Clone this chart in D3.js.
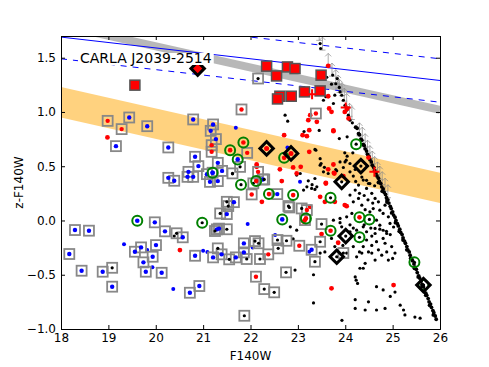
<!DOCTYPE html>
<html>
<head>
<meta charset="utf-8">
<script src="https://cdn.jsdelivr.net/npm/d3@7"></script>
<style>
  body { margin: 0; background: #fff; }
  svg { font-family: "DejaVu Sans", sans-serif; }
</style>
</head>
<body>
<div id="chart"></div>
<script>
// ---- data (F140W magnitude, z-F140W colour) ----
var xTicks = [18, 19, 20, 21, 22, 23, 24, 25, 26];
var yTicks = [-1.0, -0.5, 0.0, 0.5, 1.0, 1.5];
var fieldName = 'CARLA J2039-2514';

// model lines: [mag, colour] end points
var bandCentre = [[18, 1.09], [26, 0.30]];
var bandHalf = 0.14;
var greyTrack = [[18, 1.80], [26, 1.02]];
var blueSolid = [[18, 1.69], [26, 1.29]];
var blueDashHi = [[18, 1.89], [26, 1.49]];
var blueDashLo = [[18, 1.49], [26, 1.09]];

var blackDots = [
  [23.43,1.71],[23.47,1.63],[23.48,1.585],[23.61,1.32],[23.735,1.34],[23.83,1.308],[23.71,1.256],
  [23.80,1.26],[23.875,1.226],[23.89,1.185],[23.925,1.154],[23.96,1.108],[23.78,1.155],[23.54,1.108],
  [23.59,1.14],[23.75,1.078],[23.995,1.062],[24.03,1.016],[24.065,0.97],[24.10,0.924],[24.15,0.90],
  [22.73,0.97],[22.785,0.915],[23.45,0.83],[23.875,0.755],[24.04,0.771],[23.36,0.655],[23.99,0.623],
  [24.04,0.593],[24.02,0.556],[23.13,0.82],[23.38,0.648],[23.47,0.57],[23.49,0.525],[23.54,0.448],
  [23.64,0.433],[23.82,0.458],[23.96,0.488],[23.995,0.54],[24.16,0.623],[24.10,0.525],[24.21,0.47],
  [23.89,0.54],[23.36,0.387],[23.29,0.295],[23.36,0.286],[23.19,0.31],[24.10,0.234],[24.21,0.28],
  [24.28,0.326],[24.38,0.372],[24.45,0.295],[24.49,0.341],[24.56,0.25],[24.63,0.203],[24.70,0.172],
  [24.84,0.141],[24.875,0.188],[24.28,0.203],[24.17,0.172],[24.35,0.141],[24.42,0.10],[24.52,0.08],
  [24.59,0.11],[24.73,0.095],[24.80,0.065],[24.91,0.034],[24.66,0.003],[24.73,-0.043],
  [24.80,-0.09],[24.875,-0.12],[24.945,-0.027],[24.14,0.065],[24.03,0.034],[23.89,0.019],[23.75,0.003],
  [23.925,-0.058],[24.10,-0.104],[24.24,-0.089],[24.38,-0.058],[24.45,-0.104],[24.56,-0.144],[24.63,-0.073],
  [23.47,0.51],[23.56,0.49],[23.80,0.47],[24.10,0.448],[24.17,0.409],[24.35,0.40],[24.45,0.37],
  [24.52,0.34],[24.62,0.32],[24.22,0.36],[24.30,0.25],[24.40,0.23],[24.48,0.19],[24.58,0.16],
  [22.975,0.418],[23.30,0.33],[23.40,0.31],[23.05,0.433],[23.12,0.28],[23.22,0.365],
  [23.89,-0.02],[24.10,-0.04],[24.17,-0.07],[24.40,-0.04],[24.54,-0.07],[24.63,-0.12],[24.73,-0.08],
  [24.87,-0.10],[24.95,-0.13],[25.02,-0.06],[24.80,-0.165],[24.84,-0.21],[24.66,-0.195],[24.56,-0.23],
  [24.45,-0.18],[24.38,-0.24],[24.30,-0.29],[24.24,-0.335],[24.35,-0.30],[24.49,-0.29],[24.56,-0.30],
  [24.70,-0.27],[24.77,-0.32],[24.875,-0.29],[24.98,-0.24],[25.05,-0.30],[25.00,-0.35],[24.91,-0.365],
  [24.63,-0.365],[24.42,-0.395],[24.38,-0.44],[24.21,-0.52],[24.23,-0.55],[24.26,-0.58],[24.31,-0.44],
  [24.03,-0.30],[24.17,-0.24],[23.95,-0.23],[23.78,-0.24],[23.71,-0.165],[23.57,-0.29],[23.47,-0.30],
  [23.33,-0.50],[23.33,-0.76],[24.66,-0.61],[24.80,-0.64],[24.95,-0.70],[25.05,-0.66],[24.84,-0.81],
  [25.16,-0.78],[25.23,-0.825],[25.26,-0.87],[25.47,-0.89],[25.58,-0.90],[24.21,-0.73],[24.21,-0.81],
  [23.93,-0.92],[24.49,-0.75],[24.66,-0.825],[24.42,-0.825],
  [22.84,-0.058],[22.975,-0.089],[22.94,-0.457],[22.90,-0.17],[20.39,-0.144],[21.62,0.43]
];

// dense locus along the z detection limit
var limitDots = [
  [24.22,0.86],[24.25,0.85],[24.28,0.80],[24.30,0.79],[24.33,0.75],[24.35,0.74],[24.38,0.70],
  [24.40,0.69],[24.42,0.66],[24.45,0.64],[24.47,0.61],[24.50,0.59],[24.52,0.56],[24.55,0.54],
  [24.57,0.51],[24.60,0.49],[24.62,0.46],[24.65,0.44],[24.67,0.41],[24.70,0.39],[24.72,0.36],
  [24.75,0.34],[24.77,0.31],[24.80,0.29],[24.82,0.26],[24.85,0.24],[24.87,0.21],[24.90,0.19],
  [24.92,0.16],[24.95,0.13],[24.97,0.11],[25.00,0.08],[25.02,0.05],[25.05,0.03],[25.07,0.00],
  [25.10,-0.03],[25.12,-0.05],[25.15,-0.08],[25.17,-0.11],[25.20,-0.13],[25.22,-0.16],[25.25,-0.19],
  [25.27,-0.21],[25.30,-0.24],[25.32,-0.27],[25.35,-0.29],[25.37,-0.32],[25.40,-0.35],[25.42,-0.37],
  [25.45,-0.40],[25.47,-0.43],[25.50,-0.45],[25.52,-0.48],[25.55,-0.51],[25.57,-0.53],[25.60,-0.56],
  [25.62,-0.59],[25.65,-0.61],[25.67,-0.64],[25.70,-0.67],[25.72,-0.69],[25.75,-0.72],[25.77,-0.75],
  [25.80,-0.77],[25.82,-0.80],[25.85,-0.83],[25.87,-0.85],[25.90,-0.88],[25.92,-0.91],
  [24.70,0.35],[24.78,0.27],[24.88,0.17],[24.98,0.07],[25.06,-0.02],[25.14,-0.10],[25.22,-0.18],
  [25.30,-0.27],[25.38,-0.35],[25.46,-0.44],[25.54,-0.52],[25.62,-0.61],[25.70,-0.69],[25.78,-0.78],
  [25.86,-0.87]
];

var upperLimits = [
  [23.45,1.66],[23.52,1.57],[23.64,1.42],[23.72,1.33],[23.80,1.27],[23.85,1.22],[23.88,1.18],
  [23.93,1.15],[23.98,1.10],[24.03,1.05],[24.09,0.96],[24.14,0.93],[24.30,0.78],[24.36,0.74],
  [24.42,0.68],[24.47,0.62],[24.52,0.57],[24.57,0.52],[24.62,0.47],[24.68,0.42],[24.73,0.38],
  [24.78,0.33],[24.84,0.27],[24.90,0.21]
];

var redDots = [
  [23.64,1.425],[23.64,1.145],[23.66,1.032],[23.71,1.001],[23.99,1.00],[24.04,1.03],[24.07,0.94],
  [23.26,0.97],[23.22,0.924],[23.40,0.909],[23.24,0.832],[23.75,0.823],[23.10,0.786],[23.19,0.777],
  [22.71,0.786],[18.98,0.765],[23.24,0.633],[22.90,0.489],[23.06,0.494],[22.62,0.471],[22.13,0.494],
  [23.64,0.471],[23.76,0.439],[23.96,0.409],[23.59,0.347],[22.24,0.172],[23.99,0.142],[23.75,0.516],
  [23.77,0.433],[23.59,0.341],[23.26,0.126],[23.47,0.218],[23.57,0.172],[23.78,0.172],[24.03,0.132],
  [24.49,0.58],[23.75,0.83],[22.975,0.434],[22.66,0.363],[22.13,0.517],[20.51,-0.273],[23.12,-0.01],
  [23.50,-0.125],[23.85,-0.205],[23.71,-0.625],[25.02,-0.595]
];

var blueDots = [
  [21.69,0.854],[22.78,0.673],[23.045,0.356],[19.33,-0.22],[19.82,-0.273],[19.93,-0.432],[20.37,-0.632],
  [21.94,-0.033],[22.52,-0.134],[23.24,-0.288],[21.00,-0.279],[21.09,-0.29],[22.045,-0.248]
];

// boxed objects: [mag, colour, class of the inner point]
var boxed = [
  [22.16,1.308,'k'],[21.81,1.023,'r'],[23.38,0.986,'r'],[18.985,0.918,'r'],[19.44,0.949,'b'],
  [19.28,0.842,'r'],[19.82,0.869,'b'],[19.16,0.685,'b'],[20.79,0.931,'b'],[21.21,0.885,'b'],
  [21.16,0.826,'b'],[21.27,0.75,'b'],[21.18,0.694,'r'],[21.18,0.633,'r'],[20.265,0.673,'b'],
  [20.83,0.587,'b'],[20.90,0.501,'b'],[21.31,0.531,'b'],[21.93,0.623,'r'],[20.265,0.393,'b'],
  [20.39,0.366,'b'],[20.69,0.448,'b'],[20.67,0.402,'b'],[20.79,0.402,'b'],[21.08,0.427,'b'],
  [21.20,0.44,'b'],[21.40,0.457,'b'],[21.145,0.356,'b'],[21.31,0.363,'b'],[21.62,0.434,'k'],
  [21.78,0.494,'k'],[22.26,0.378,'b'],[22.06,0.342,'k'],[22.025,0.24,'r'],[22.565,0.243,'b'],
  [21.53,0.133,'k'],[21.65,0.169,'b'],[22.80,0.133,'k'],[22.16,0.448,'r'],[22.29,0.378,'k'],
  [22.82,0.12,'k'],[23.08,0.111,'k'],[23.19,0.096,'r'],[23.15,0.004,'r'],[21.50,0.172,'k'],
  [21.50,0.059,'b'],[21.36,0.065,'k'],[21.29,-0.082,'b'],[21.25,-0.097,'k'],[21.335,-0.075,'b'],
  [21.50,-0.081,'k'],[22.57,-0.18,'k'],[22.76,-0.187,'k'],[23.03,-0.233,'r'],[20.83,-0.325,'b'],
  [21.21,-0.34,'b'],[21.31,-0.257,'k'],[21.39,-0.312,'b'],[21.55,-0.358,'k'],[21.69,-0.34,'b'],
  [21.86,-0.294,'b'],[21.86,-0.211,'b'],[21.92,-0.355,'k'],[22.095,-0.19,'k'],[22.17,-0.21,'k'],
  [22.20,-0.355,'k'],[22.375,-0.312,'r'],[22.585,-0.257,'k'],[22.75,-0.478,'k'],[22.115,-0.518,'r'],
  [22.29,-0.632,'k'],[22.50,-0.662,'k'],[20.72,-0.666,'b'],[20.92,-0.604,'b'],[21.87,-0.878,'k'],
  [19.98,-0.017,'b'],[18.295,-0.088,'b'],[18.59,-0.094,'b'],[20.195,-0.10,'b'],[20.44,-0.118,'k'],
  [20.57,-0.155,'b'],[18.175,-0.309,'b'],[19.69,-0.248,'b'],[19.56,-0.288,'b'],[20.005,-0.227,'b'],
  [19.935,-0.334,'b'],[19.74,-0.386,'b'],[19.79,-0.472,'b'],[20.125,-0.482,'b'],[18.435,-0.463,'b'],
  [18.88,-0.472,'b'],[19.08,-0.436,'k'],[19.08,-0.61,'b'],[23.50,-0.033,'k'],[23.47,-0.196,'k'],
  [23.29,-0.27,'b'],[23.36,-0.38,'k'],[23.96,-0.30,'k']
];

var redSquares = [
  [19.56,1.247],[22.34,1.422],[22.78,1.415],[22.94,1.40],[22.55,1.332],[23.49,1.339],
  [22.62,1.145],[22.57,1.12],[22.86,1.145],[23.14,1.185],[23.47,1.194]
];

var greenRings = [
  [21.57,0.648,'r'],[21.85,0.719,'r'],[21.73,0.563,'b'],[22.71,0.577,'r'],[24.23,0.703,'k'],
  [21.80,0.33,'k'],[22.12,0.363,'r'],[22.39,0.243,'r'],[22.90,0.234,'r'],[23.69,0.209,'k'],
  [21.20,0.44,'b'],[20.98,-0.021,'k'],[22.67,0.01,'b'],[23.17,0.019,'r'],[19.61,-0.003,'b'],
  [24.30,0.029,'r'],[24.51,0.01,'k'],[23.69,-0.095,'r'],[24.30,-0.155,'k'],[25.46,-0.386,'k'],
  [25.65,-0.595,'k']
];

var diamonds = [
  [20.885,1.40,'R'],[22.34,0.664,'r'],[22.855,0.618,'r'],[24.33,0.501,'k'],[23.925,0.356,'k'],
  [24.01,-0.144,'k'],[23.82,-0.334,'k'],[25.65,-0.595,'k']
];

var redCrosses = [[23.30,1.164],[24.01,1.041],[24.615,0.448]];

// ---- drawing ----
var W = 489, H = 367;
var margin = {top: 36, right: 49, bottom: 38, left: 61};
var dotColour = {k: '#000', r: '#ff0000', b: '#0000ff', R: '#ff0000'};

var svg = d3.select('#chart').append('svg')
    .attr('width', W)
    .attr('height', H);

var x = d3.scaleLinear().domain([18, 26]).range([margin.left, W - margin.right]);
var y = d3.scaleLinear().domain([-1, 1.7]).range([H - margin.bottom, margin.top]);

svg.append('clipPath').attr('id', 'plotclip')
  .append('rect')
    .attr('x', margin.left).attr('y', margin.top)
    .attr('width', x(26) - x(18)).attr('height', y(-1) - y(1.7));

var plot = svg.append('g').attr('clip-path', 'url(#plotclip)');

// red sequence band
var band = d3.area()
    .x(d => x(d[0]))
    .y0(d => y(d[1] - bandHalf))
    .y1(d => y(d[1] + bandHalf));
plot.append('path')
    .attr('d', band(bandCentre))
    .attr('fill', '#ffa500')
    .attr('fill-opacity', 0.5);

var line = d3.line().x(d => x(d[0])).y(d => y(d[1]));

plot.append('path')
    .attr('d', line(greyTrack))
    .attr('stroke', '#888')
    .attr('stroke-opacity', 0.6)
    .attr('stroke-width', 8)
    .attr('fill', 'none');

plot.append('path')
    .attr('d', line(blueSolid))
    .attr('stroke', '#0000ff').attr('stroke-width', 1).attr('fill', 'none');
[blueDashHi, blueDashLo].forEach(l => {
    plot.append('path')
        .attr('d', line(l))
        .attr('stroke', '#0000ff').attr('stroke-width', 1)
        .attr('stroke-dasharray', '6,6').attr('fill', 'none');
});

// label with white box
var label = svg.append('g');
var labelText = label.append('text')
    .attr('x', 80).attr('y', 63)
    .attr('font-size', 14)
    .text(fieldName);
var bb = labelText.node().getBBox();
label.insert('rect', 'text')
    .attr('x', bb.x - 2).attr('y', bb.y + 3)
    .attr('width', bb.width + 4).attr('height', bb.height - 4)
    .attr('fill', '#fff');

// upper limits (grey arrows)
var arrows = plot.append('g')
    .attr('stroke', '#888').attr('stroke-opacity', 0.7)
    .attr('fill', 'none').attr('stroke-width', 1);
upperLimits.forEach(d => {
    var px = x(d[0]), py = y(d[1]);
    arrows.append('path')
        .attr('d', 'M' + px + ',' + py + 'V' + (py - 13) +
            'M' + (px - 3) + ',' + (py - 10) + 'L' + px + ',' + (py - 13) + 'L' + (px + 3) + ',' + (py - 10) +
            'M' + (px - 3) + ',' + py + 'H' + (px + 3));
});

function dots(data, colour, r) {
    plot.append('g').selectAll('circle')
        .data(data).join('circle')
        .attr('cx', d => x(d[0]))
        .attr('cy', d => y(d[1]))
        .attr('r', r)
        .attr('fill', colour);
}

dots(blackDots, '#000', 1.6);
dots(limitDots, '#000', 1.9);
dots(redDots, '#ff0000', 2.4);
dots(blueDots, '#0000ff', 2.0);

// boxed objects
var box = plot.append('g');
box.selectAll('rect')
    .data(boxed).join('rect')
    .attr('x', d => x(d[0]) - 5)
    .attr('y', d => y(d[1]) - 5)
    .attr('width', 10).attr('height', 10)
    .attr('fill', 'none')
    .attr('stroke', '#888').attr('stroke-width', 1.8);
box.selectAll('circle')
    .data(boxed).join('circle')
    .attr('cx', d => x(d[0]))
    .attr('cy', d => y(d[1]))
    .attr('r', d => d[2] === 'k' ? 1.6 : 2.2)
    .attr('fill', d => dotColour[d[2]]);

// red squares
plot.append('g').selectAll('rect')
    .data(redSquares).join('rect')
    .attr('x', d => x(d[0]) - 5)
    .attr('y', d => y(d[1]) - 5)
    .attr('width', 10).attr('height', 10)
    .attr('fill', '#ff0000')
    .attr('stroke', '#555').attr('stroke-width', 1.5);

// green rings
var rings = plot.append('g');
rings.selectAll('circle.ring')
    .data(greenRings).join('circle')
    .attr('class', 'ring')
    .attr('cx', d => x(d[0]))
    .attr('cy', d => y(d[1]))
    .attr('r', 5)
    .attr('fill', 'none')
    .attr('stroke', '#008000').attr('stroke-width', 2);
rings.selectAll('circle.in')
    .data(greenRings).join('circle')
    .attr('class', 'in')
    .attr('cx', d => x(d[0]))
    .attr('cy', d => y(d[1]))
    .attr('r', d => d[2] === 'k' ? 1.6 : 2.3)
    .attr('fill', d => dotColour[d[2]]);

// black diamonds
var dia = plot.append('g');
dia.selectAll('path')
    .data(diamonds).join('path')
    .attr('d', d3.symbol().type(d3.symbolSquare).size(90))
    .attr('transform', d => 'translate(' + x(d[0]) + ',' + y(d[1]) + ') rotate(45)')
    .attr('fill', d => d[2] === 'R' ? '#ff0000' : 'none')
    .attr('stroke', '#000').attr('stroke-width', 3);
dia.selectAll('circle')
    .data(diamonds).join('circle')
    .attr('cx', d => x(d[0]))
    .attr('cy', d => y(d[1]))
    .attr('r', d => d[2] === 'k' ? 1.6 : 2.5)
    .attr('fill', d => dotColour[d[2]]);

// red crosses
plot.append('g').selectAll('path')
    .data(redCrosses).join('path')
    .attr('d', d => {
        var px = x(d[0]), py = y(d[1]);
        return 'M' + (px - 5) + ',' + py + 'H' + (px + 5) + 'M' + px + ',' + (py - 5) + 'V' + (py + 5);
    })
    .attr('stroke', '#ff0000').attr('stroke-width', 2);

// axes, ticks inward on all four sides
var fmtY = d3.format('.1f');
svg.append('g')
    .attr('transform', 'translate(0,' + y(-1) + ')')
    .call(d3.axisBottom(x).tickValues(xTicks).tickSize(-4).tickPadding(4).tickFormat(d3.format('d')));
svg.append('g')
    .attr('transform', 'translate(0,' + y(1.7) + ')')
    .call(d3.axisTop(x).tickValues(xTicks).tickSize(-4).tickFormat(''));
svg.append('g')
    .attr('transform', 'translate(' + x(18) + ',0)')
    .call(d3.axisLeft(y).tickValues(yTicks).tickSize(-4).tickPadding(5).tickFormat(fmtY));
svg.append('g')
    .attr('transform', 'translate(' + x(26) + ',0)')
    .call(d3.axisRight(y).tickValues(yTicks).tickSize(-4).tickFormat(''));

svg.selectAll('.domain').attr('stroke', '#000').attr('stroke-width', 1);
svg.selectAll('.tick text')
    .attr('font-size', 12)
    .attr('font-family', '"DejaVu Sans", sans-serif')
    .attr('fill', '#000');

svg.append('text')
    .attr('x', (x(18) + x(26)) / 2).attr('y', 360)
    .attr('text-anchor', 'middle')
    .attr('font-size', 12)
    .text('F140W');
svg.append('text')
    .attr('transform', 'translate(23,' + ((y(-1) + y(1.7)) / 2) + ') rotate(-90)')
    .attr('text-anchor', 'middle')
    .attr('font-size', 12)
    .text('z-F140W');
</script>
</body>
</html>
